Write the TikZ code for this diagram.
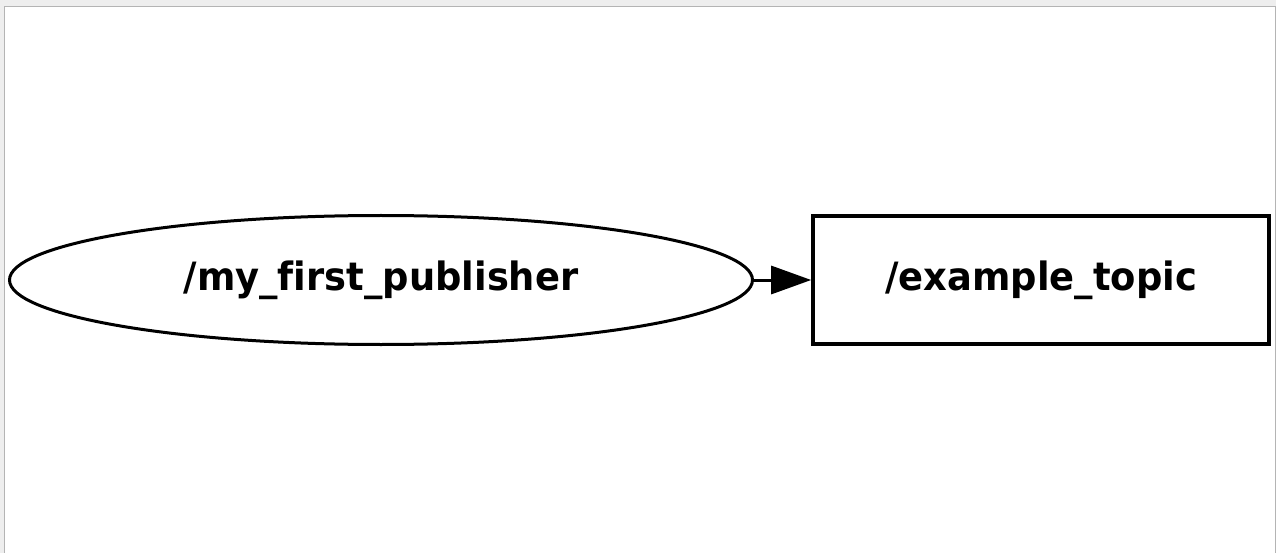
\documentclass[tikz,border=0pt]{standalone}
\usepackage{fontspec}
\setmainfont[Ligatures=CommonOff, FakeStretch=0.945]{DejaVu Sans}
\usepackage{xcolor}
\usepackage{tikz}
\usetikzlibrary{shapes.geometric,arrows.meta}
\definecolor{canvas}{HTML}{EEEEEE}
\definecolor{frame}{HTML}{B4B4B4}
\tikzset{
  nodebox/.style={draw=black, line width=3pt, inner sep=0pt, font=\fontsize{39}{47}\selectfont\bfseries},
  pubnode/.style={nodebox, ellipse, minimum width=743pt, minimum height=129pt},
  topicnode/.style={nodebox, rectangle, line width=3.6pt, minimum width=456pt, minimum height=128pt},
  edge/.style={draw=black, line width=3pt, -{Triangle[length=40pt,width=28pt]}},
}

\begin{document}
\begin{tikzpicture}[x=1pt, y=-1pt]
  % page and window frame
  \useasboundingbox (0,0) rectangle (1276,553);
  \clip (0,0) rectangle (1276,553);
  \fill[canvas] (0,0) rectangle (1276,553);
  \filldraw[fill=white, draw=frame, line width=1.5pt] (4.5,560) -- (4.5,6.5) -- (1275.5,6.5) -- (1275.5,560);

  \node[pubnode] (pub) at (381,280) {/my\_first\_publisher};
  \node[topicnode] (topic) at (1041,280) {/example\_topic};

  \draw[edge] (pub) -- (topic);
\end{tikzpicture}
\end{document}
